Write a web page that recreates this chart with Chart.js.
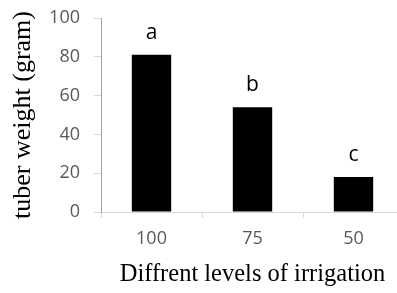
<!DOCTYPE html>
<html>
<head>
<meta charset="utf-8">
<script src="https://cdn.jsdelivr.net/npm/chart.js@4.4.0/dist/chart.umd.min.js"></script>
<style>
  html, body { margin: 0; padding: 0; overflow: hidden; background: #fff; }
  #wrap { width: 404px; height: 293px; }
</style>
</head>
<body>
<div id="wrap"><canvas id="barChart"></canvas></div>
<script>
  // datos
  const niveles = ['100', '75', '50'];
  const peso = [81, 54, 18];
  const letras = ['a', 'b', 'c'];
  const marcasY = [0, 20, 40, 60, 80, 100];

  // letras encima de cada barra
  const letrasPlugin = {
    id: 'letras',
    afterDatasetsDraw(chart) {
      const ctx = chart.ctx;
      const meta = chart.getDatasetMeta(0);
      ctx.save();
      ctx.fillStyle = '#000';
      ctx.font = '21px "Open Sans"';
      ctx.textAlign = 'center';
      ctx.textBaseline = 'alphabetic';
      meta.data.forEach((bar, i) => {
        ctx.fillText(letras[i], bar.x, bar.y - 16);
      });
      ctx.restore();
    }
  };

  new Chart(document.getElementById('barChart'), {
    type: 'bar',
    data: {
      labels: niveles,
      datasets: [{
        data: peso,
        backgroundColor: '#000',
        borderWidth: 0,
        barPercentage: 0.78,
        categoryPercentage: 0.5
      }]
    },
    options: {
      responsive: true,
      maintainAspectRatio: false,
      animation: false,
      layout: { padding: { top: 18, right: 0, left: 0, bottom: 0 } },
      plugins: { legend: { display: false }, tooltip: { enabled: false } },
      scales: {
        x: {
          afterFit(scale) { scale.height = 81; },
          grid: { offset: true, drawOnChartArea: false, drawTicks: true, tickLength: 6, color: '#d9d9d9' },
          border: { color: '#d9d9d9', width: 1 },
          ticks: { color: '#595959', font: { family: 'Open Sans', size: 18 }, padding: 10 },
          title: {
            display: true,
            text: 'Diffrent levels of irrigation',
            color: '#000',
            font: { family: 'Liberation Serif', size: 24.5 },
            padding: { top: 0, bottom: 4 }
          }
        },
        y: {
          min: 0,
          max: 100,
          afterFit(scale) {
            scale.width = 101;
            scale.paddingTop = 0;
            scale.paddingBottom = 0;
          },
          afterBuildTicks(scale) { scale.ticks = marcasY.map(v => ({ value: v })); },
          grid: { drawOnChartArea: false, drawTicks: true, tickLength: 7, color: '#d9d9d9' },
          border: { color: '#a0a0a0', width: 1 },
          ticks: { color: '#595959', font: { family: 'Open Sans', size: 18 }, padding: 14 },
          title: {
            display: true,
            text: 'tuber weight (gram)',
            color: '#000',
            font: { family: 'Liberation Serif', size: 26 },
            padding: { top: 8, bottom: 0 }
          }
        }
      }
    },
    plugins: [letrasPlugin]
  });
</script>
</body>
</html>
